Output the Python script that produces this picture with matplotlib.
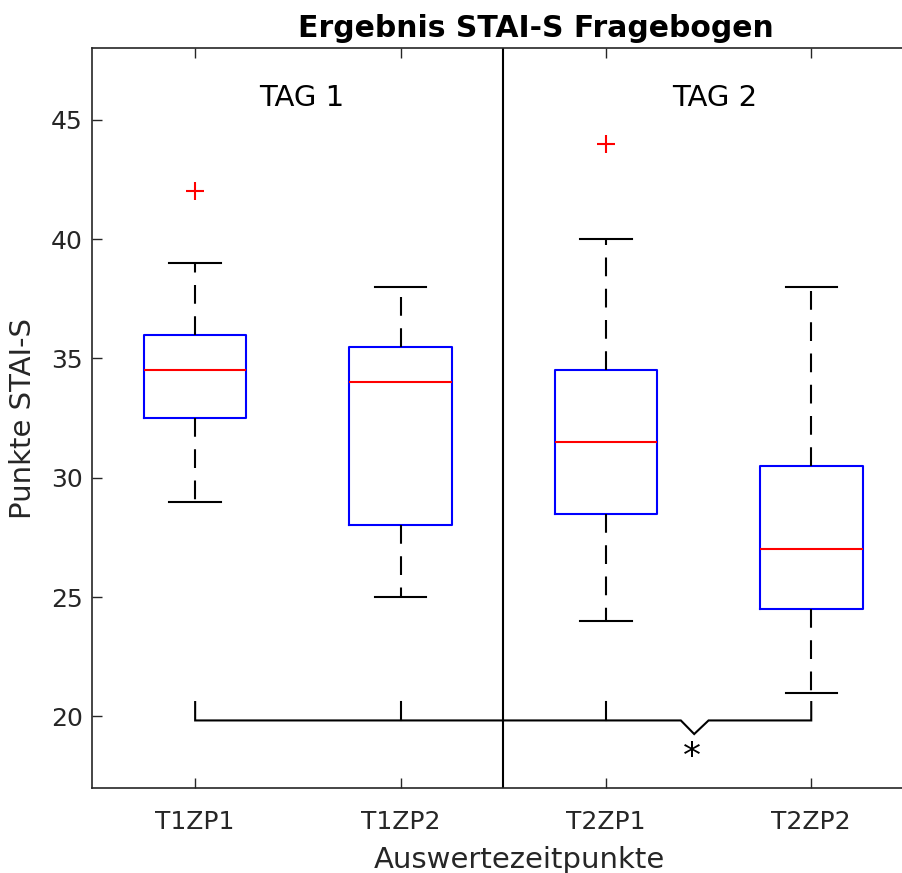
import numpy as np
import matplotlib
matplotlib.use("Agg")
import matplotlib.pyplot as plt

# Auswertezeitpunkte (Tag / Zeitpunkt)
labels = ["T1ZP1", "T1ZP2", "T2ZP1", "T2ZP2"]
q1 = [32.5, 28.0, 28.5, 24.5]
medians = [34.5, 34.0, 31.5, 27.0]
q3 = [36.0, 35.5, 34.5, 30.5]
whis_low = [29, 25, 24, 21]
whis_high = [39, 38, 40, 38]
outliers = [[42], [], [44], []]

# Signifikanz T1ZP1 vs. T2ZP2
sig_from, sig_to = 1, 4
sig_label = "*"

plt.rcParams['font.family'] = ['DejaVu Sans']
axcol = '#262626'

stats = []
for i in range(len(labels)):
    stats.append(dict(med=medians[i], q1=q1[i], q3=q3[i],
                      whislo=whis_low[i], whishi=whis_high[i],
                      fliers=outliers[i], label=labels[i]))

fig = plt.figure(figsize=(9.03, 8.73), dpi=100)
ax = fig.add_axes([0.1024, 0.0974, 0.9097, 0.8473])

pos = np.arange(1, len(labels) + 1)
ax.bxp(stats, positions=pos, widths=0.5, capwidths=0.25,
       boxprops=dict(color='blue', linewidth=1.5),
       medianprops=dict(color='red', linewidth=1.5),
       whiskerprops=dict(color='black', linewidth=1.5, linestyle=(0, (9, 6))),
       capprops=dict(color='black', linewidth=1.5),
       flierprops=dict(marker='+', markeredgecolor='red', markersize=13,
                       markeredgewidth=1.5, linestyle='none'))

# Trennlinie zwischen den Tagen
ax.axvline(2.5, color='black', linewidth=1.5)
ax.text(1.52, 45.9, "TAG 1", fontsize=21, ha='center', va='center')
ax.text(3.53, 45.9, "TAG 2", fontsize=21, ha='center', va='center')

# Klammer mit Stern
y0, ytop, ynotch = 19.83, 20.6, 19.26
nx = 3.43
bx = [sig_from, sig_from, nx - 0.065, nx, nx + 0.07, sig_to, sig_to]
by = [ytop, y0, y0, ynotch, y0, y0, ytop]
ax.plot(bx, by, color='black', linewidth=1.5, solid_joinstyle='miter')
for p in [2, 3]:
    ax.plot([p, p], [y0, ytop], color='black', linewidth=1.5)
ax.text(3.42, 17.86, sig_label, fontsize=26, ha='center', va='baseline')

ax.set_xlim(0.5, 4.5)
ax.set_ylim(17, 48)
ax.set_xticks(pos)
ax.set_xticklabels(labels)
ax.set_yticks([20, 25, 30, 35, 40, 45])
ax.tick_params(direction='in', length=7, width=1, colors=axcol, labelsize=18,
               top=True, right=False)
ax.tick_params(axis='x', pad=16)
ax.tick_params(axis='y', pad=7)
for s in ax.spines.values():
    s.set_color(axcol)
    s.set_linewidth(1.2)
ax.spines['right'].set_visible(False)

ax.set_title("Ergebnis STAI-S Fragebogen", fontsize=21.5, fontweight='bold',
             x=0.54, pad=8)
ax.set_xlabel("Auswertezeitpunkte", fontsize=21, color=axcol)
ax.xaxis.set_label_coords(0.52, -0.078)
ax.set_ylabel("Punkte STAI-S", fontsize=21, color=axcol)
ax.yaxis.set_label_coords(-0.067, 0.5)

fig.savefig("out.png", dpi=100)
